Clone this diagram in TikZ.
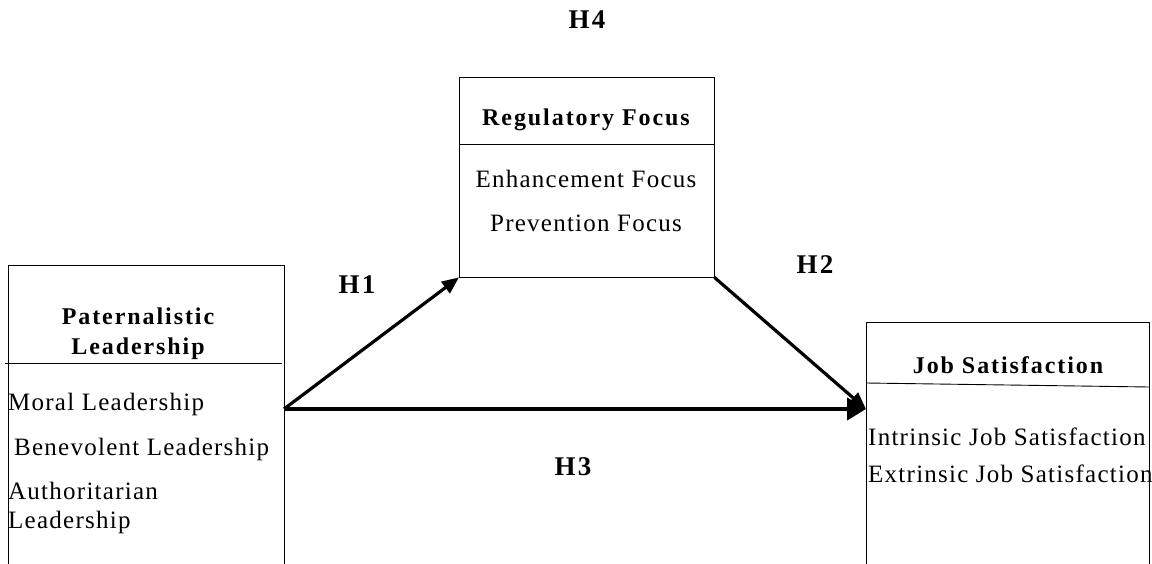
\documentclass[tikz,border=0pt]{standalone}
\usepackage{fontspec}
\setmainfont{Liberation Serif}
\newfontfamily\bodyfont{Liberation Serif}[LetterSpace=5]
\newfontfamily\titlefont{Liberation Serif}[LetterSpace=8]
\usetikzlibrary{arrows.meta}

\tikzset{
  frame/.style={draw=black, line width=0.9pt},
  item/.style={font=\bodyfont\fontsize{25}{29}\selectfont, inner sep=0pt, anchor=base west},
  itemc/.style={font=\bodyfont\fontsize{25}{29}\selectfont, inner sep=0pt, anchor=base},
  head/.style={font=\titlefont\fontsize{24}{28}\selectfont\bfseries, inner sep=0pt, anchor=base},
  hyp/.style={font=\titlefont\fontsize{27}{31}\selectfont\bfseries, inner sep=0pt, anchor=base},
  link/.style={line width=3.2pt, -{Triangle[length=17pt,width=14pt]}},
  mainlink/.style={line width=4.4pt, -{Triangle[length=19pt,width=22pt]}}
}

\begin{document}
\begin{tikzpicture}[x=1pt,y=-1pt]
\useasboundingbox (0,0) rectangle (1152,564);

% box areas
\node[minimum width=276pt, minimum height=299pt, inner sep=0pt, anchor=north west] (pl) at (8,265) {};
\node[minimum width=255pt, minimum height=200pt, inner sep=0pt, anchor=north west] (rf) at (459,77) {};
\node[minimum width=283pt, minimum height=242pt, inner sep=0pt, anchor=north west] (js) at (866,322) {};

% Paternalistic Leadership box (open at the bottom)
\draw[frame] (pl.south west) -- (pl.north west) -- (pl.north east) -- (pl.south east);
\draw[frame] (5,363) -- (282,363);
\node[head] (plt1) at (138,324) {Paternalistic};
\node[head] (plt2) at (138,354) {Leadership};
\node[item] (pl1) at (8,410) {Moral Leadership};
\node[item] (pl2) at (14,455) {Benevolent Leadership};
\node[item] (pl3) at (8,499) {Authoritarian};
\node[item] (pl4) at (8,528) {Leadership};

% Regulatory Focus box
\draw[frame] (rf.north west) rectangle (rf.south east);
\draw[frame] (459,144) -- (714,144);
\node[head] (rft) at (586,126) {Regulatory Focus};
\node[itemc] (rf1) at (586,188) {Enhancement Focus};
\node[itemc] (rf2) at (586,232) {Prevention Focus};

% Job Satisfaction box (open at the bottom)
\draw[frame] (js.south west) -- (js.north west) -- (js.north east) -- (js.south east);
\draw[frame] (866,383) -- (1149,387);
\node[head] (jst) at (1008,373) {Job Satisfaction};
\node[item] (js1) at (868,445) {Intrinsic Job Satisfaction};
\node[item] (js2) at (868,482) {Extrinsic Job Satisfaction};

% arrow end points
\coordinate (src) at (284,409);
\coordinate (dst) at (866,409);

\draw[link] (src) -- (rf.south west);
\draw[link] (rf.south east) -- (dst);
\draw[mainlink] (src) -- (dst);

% hypothesis labels
\node[hyp] (h1) at (357,294) {H1};
\node[hyp] (h2) at (815,273) {H2};
\node[hyp] (h3) at (573,475) {H3};
\node[hyp] (h4) at (587,29) {H4};
\end{tikzpicture}
\end{document}
